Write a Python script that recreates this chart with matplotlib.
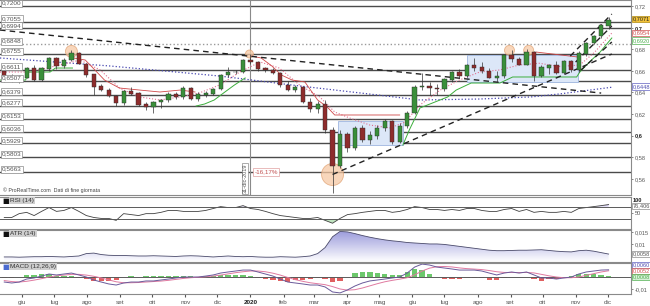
import numpy as np
import pandas as pd
import matplotlib
matplotlib.use('Agg')
import matplotlib.pyplot as plt
import matplotlib.dates as mdates
import matplotlib.transforms as mtransforms
from matplotlib.patches import Rectangle, Ellipse
from matplotlib.colors import LinearSegmentedColormap

plt.rcParams['font.family'] = ['Liberation Sans', 'DejaVu Sans']

# ---------------- data (NZD/USD, weekly) ----------------
week_end = pd.date_range('2019-05-17', '2020-12-04', freq='W-FRI')
first_open = 0.6600
closes = [0.6520, 0.6550, 0.6535, 0.6620, 0.6520, 0.6620, 0.6715, 0.6650, 0.6700, 0.6760,
          0.6665, 0.6565, 0.6455, 0.6425, 0.6365, 0.6300, 0.6410, 0.6390, 0.6290, 0.6270,
          0.6310, 0.6330, 0.6380, 0.6360, 0.6440, 0.6340, 0.6380, 0.6390, 0.6430, 0.6560,
          0.6590, 0.6590, 0.6700, 0.6680, 0.6620, 0.6610, 0.6580, 0.6470, 0.6420, 0.6450,
          0.6310, 0.6250, 0.6290, 0.6050, 0.5720, 0.6010, 0.5890, 0.6070, 0.5960, 0.6000,
          0.6070, 0.6130, 0.5940, 0.6090, 0.6210, 0.6450, 0.6460, 0.6440, 0.6430, 0.6520,
          0.6590, 0.6550, 0.6650, 0.6630, 0.6600, 0.6540, 0.6550, 0.6740, 0.6710, 0.6660,
          0.6770, 0.6550, 0.6630, 0.6650, 0.6580, 0.6690, 0.6610, 0.6760, 0.6860, 0.6920,
          0.7020, 0.7070]
highs = [0.6615, 0.6570, 0.6565, 0.6640, 0.6650, 0.6640, 0.6725, 0.6730, 0.6715, 0.6790,
         0.6770, 0.6670, 0.6570, 0.6480, 0.6440, 0.6375, 0.6420, 0.6450, 0.6400, 0.6310,
         0.6320, 0.6340, 0.6400, 0.6400, 0.6460, 0.6450, 0.6400, 0.6410, 0.6440, 0.6570,
         0.6640, 0.6610, 0.6710, 0.6756, 0.6690, 0.6640, 0.6630, 0.6590, 0.6510, 0.6470,
         0.6460, 0.6350, 0.6320, 0.6330, 0.6080, 0.6050, 0.6030, 0.6090, 0.6100, 0.6040,
         0.6100, 0.6150, 0.6140, 0.6120, 0.6230, 0.6470, 0.6580, 0.6500, 0.6480, 0.6530,
         0.6600, 0.6620, 0.6660, 0.6720, 0.6680, 0.6630, 0.6600, 0.6750, 0.6797, 0.6730,
         0.6798, 0.6780, 0.6650, 0.6660, 0.6690, 0.6700, 0.6700, 0.6780, 0.6870, 0.6930,
         0.7030, 0.7100]
lows = [0.6500, 0.6500, 0.6485, 0.6530, 0.6510, 0.6505, 0.6600, 0.6620, 0.6630, 0.6690,
        0.6660, 0.6540, 0.6380, 0.6410, 0.6355, 0.6270, 0.6285, 0.6380, 0.6270, 0.6240,
        0.6210, 0.6260, 0.6310, 0.6340, 0.6340, 0.6330, 0.6320, 0.6360, 0.6380, 0.6420,
        0.6540, 0.6570, 0.6580, 0.6660, 0.6600, 0.6590, 0.6570, 0.6450, 0.6410, 0.6400,
        0.6300, 0.6220, 0.6210, 0.6020, 0.5469, 0.5700, 0.5850, 0.5870, 0.5940, 0.5920,
        0.5970, 0.6040, 0.5920, 0.5930, 0.6070, 0.6200, 0.6420, 0.6380, 0.6380, 0.6410,
        0.6500, 0.6530, 0.6540, 0.6600, 0.6580, 0.6530, 0.6500, 0.6530, 0.6680, 0.6650,
        0.6650, 0.6510, 0.6540, 0.6570, 0.6570, 0.6570, 0.6590, 0.6590, 0.6740, 0.6850,
        0.6900, 0.6990]

rsi = [36, 36, 48, 52, 42, 55, 67, 55, 58, 67, 55, 42, 36, 33, 33, 27, 48, 45, 42, 48,
       48, 52, 58, 58, 55, 55, 55, 58, 64, 70, 67, 67, 73, 64, 61, 55, 48, 42, 39, 36,
       33, 33, 36, 27, 18, 33, 45, 48, 52, 55, 58, 58, 52, 55, 61, 70, 67, 61, 61, 58,
       61, 58, 64, 64, 58, 55, 55, 61, 64, 55, 61, 52, 55, 52, 52, 55, 52, 64, 67, 70,
       73, 76.4]
atr = [0.0046, 0.0046, 0.0045, 0.0046, 0.0047, 0.0047, 0.0048, 0.0047, 0.0046, 0.0048,
       0.0050, 0.0060, 0.0062, 0.0056, 0.0053, 0.0052, 0.0052, 0.0051, 0.0050, 0.0050,
       0.0051, 0.0050, 0.0049, 0.0048, 0.0050, 0.0051, 0.0050, 0.0048, 0.0046, 0.0048,
       0.0050, 0.0048, 0.0047, 0.0048, 0.0046, 0.0045, 0.0045, 0.0047, 0.0046, 0.0045,
       0.0047, 0.0050, 0.0060, 0.0085, 0.0130, 0.0152, 0.0150, 0.0143, 0.0135, 0.0128,
       0.0122, 0.0117, 0.0113, 0.0110, 0.0106, 0.0104, 0.0102, 0.0100, 0.0100, 0.0098,
       0.0094, 0.0090, 0.0086, 0.0082, 0.0078, 0.0074, 0.0072, 0.0072, 0.0073, 0.0074,
       0.0074, 0.0075, 0.0076, 0.0073, 0.0070, 0.0068, 0.0067, 0.0072, 0.0074, 0.0070,
       0.0064, 0.0058]
macd = [-0.0042, -0.0050, -0.0042, -0.0017, -0.0008, 0.0008, 0.0025, 0.0017, 0.0025, 0.0033,
        0.0017, 0.0000, -0.0025, -0.0042, -0.0058, -0.0067, -0.0050, -0.0042, -0.0042, -0.0033,
        -0.0033, -0.0025, -0.0017, -0.0008, 0.0000, 0.0000, 0.0000, 0.0008, 0.0017, 0.0033,
        0.0042, 0.0050, 0.0058, 0.0058, 0.0042, 0.0025, 0.0008, -0.0017, -0.0042, -0.0050,
        -0.0058, -0.0067, -0.0067, -0.0083, -0.0125, -0.0133, -0.0108, -0.0075, -0.0050, -0.0033,
        -0.0025, -0.0017, -0.0008, 0.0000, 0.0033, 0.0083, 0.0108, 0.0100, 0.0083, 0.0075,
        0.0067, 0.0058, 0.0058, 0.0058, 0.0050, 0.0033, 0.0017, 0.0033, 0.0042, 0.0033,
        0.0042, 0.0017, -0.0008, -0.0008, -0.0017, -0.0008, 0.0000, 0.0025, 0.0042, 0.0050,
        0.0058, 0.0060]
signal = [-0.0030, -0.0038, -0.0042, -0.0036, -0.0026, -0.0014, 0.0000, 0.0010, 0.0016, 0.0022,
          0.0022, 0.0016, 0.0006, -0.0008, -0.0024, -0.0040, -0.0048, -0.0048, -0.0046, -0.0042,
          -0.0038, -0.0034, -0.0028, -0.0020, -0.0012, -0.0006, -0.0002, 0.0002, 0.0008, 0.0016,
          0.0026, 0.0036, 0.0044, 0.0050, 0.0050, 0.0044, 0.0032, 0.0016, -0.0004, -0.0022,
          -0.0036, -0.0048, -0.0056, -0.0064, -0.0080, -0.0100, -0.0110, -0.0106, -0.0092, -0.0074,
          -0.0056, -0.0040, -0.0028, -0.0018, -0.0006, 0.0018, 0.0050, 0.0074, 0.0086, 0.0088,
          0.0084, 0.0076, 0.0070, 0.0066, 0.0062, 0.0054, 0.0044, 0.0038, 0.0038, 0.0037,
          0.0038, 0.0034, 0.0022, 0.0010, 0.0000, -0.0006, -0.0006, 0.0000, 0.0014, 0.0028,
          0.0042, 0.0052]

# moving averages / trailing stops (knots)
ma_fast_dates = ['2019-05-11', '2019-06-08', '2019-07-06', '2019-07-25', '2019-08-13', '2019-08-31',
                 '2019-09-19', '2019-10-08', '2019-10-27', '2019-11-14', '2019-12-03', '2019-12-22',
                 '2020-01-10', '2020-01-28', '2020-02-16', '2020-03-06', '2020-03-20', '2020-04-03',
                 '2020-04-22', '2020-05-11', '2020-05-25', '2020-06-08', '2020-06-27', '2020-07-15',
                 '2020-08-03', '2020-08-22', '2020-09-09', '2020-09-28', '2020-10-17', '2020-11-05',
                 '2020-11-19', '2020-12-05']
ma_fast = [0.6589, 0.6589, 0.6654, 0.6700, 0.6608, 0.6441, 0.6358, 0.6330, 0.6358, 0.6395,
           0.6469, 0.6589, 0.6682, 0.6626, 0.6469, 0.6358, 0.6219, 0.6163, 0.6098, 0.6071,
           0.6126, 0.6284, 0.6422, 0.6515, 0.6589, 0.6608, 0.6654, 0.6670, 0.6640, 0.6654,
           0.6774, 0.6950]
ma_slow_dates = ['2019-05-11', '2019-08-22', '2019-12-03', '2020-02-16', '2020-04-13', '2020-06-08',
                 '2020-08-03', '2020-09-20', '2020-10-17', '2020-12-05']
ma_slow = [0.6719, 0.6645, 0.6552, 0.6460, 0.6395, 0.6330, 0.6339, 0.6358, 0.6386, 0.6448]

stop_red = [
    (['2019-07-19', '2019-07-30', '2019-08-08', '2019-08-17', '2019-08-31', '2019-09-19',
      '2019-10-08', '2019-10-27', '2019-11-10'],
     [0.6719, 0.6700, 0.6608, 0.6515, 0.6441, 0.6422, 0.6404, 0.6422, 0.6404]),
    (['2020-01-02', '2020-01-11', '2020-01-21', '2020-01-30', '2020-02-09', '2020-02-21',
      '2020-03-04', '2020-03-13', '2020-03-20', '2020-05-20'],
     [0.6737, 0.6719, 0.6645, 0.6561, 0.6515, 0.6497, 0.6330, 0.6265, 0.6191, 0.6191]),
    (['2020-09-25', '2020-11-03'], [0.6774, 0.6728]),
]
stop_green = [
    (['2019-05-11', '2019-06-04', '2019-06-07', '2019-06-27', '2019-07-02', '2019-07-18'],
     [0.6515, 0.6515, 0.6589, 0.6589, 0.6626, 0.6626]),
    (['2019-11-11', '2019-11-19', '2019-11-28', '2019-12-08', '2019-12-17', '2019-12-27'],
     [0.6274, 0.6293, 0.6330, 0.6404, 0.6469, 0.6534]),
    (['2020-05-23', '2020-05-29', '2020-06-08', '2020-07-04', '2020-07-12', '2020-07-26',
      '2020-08-22', '2020-09-03', '2020-11-02', '2020-11-05', '2020-11-14', '2020-11-24',
      '2020-12-05'],
     [0.5913, 0.6052, 0.6256, 0.6358, 0.6422, 0.6487, 0.6487, 0.6543, 0.6543, 0.6589,
      0.6682, 0.6774, 0.6904]),
]

levels = [0.7200, 0.7055, 0.6994, 0.6848, 0.6755, 0.6611, 0.6507, 0.6379, 0.6277,
          0.6153, 0.6036, 0.5929, 0.5803, 0.5663]
trend_lines = [
    (('2019-05-11', 0.6978), ('2020-11-25', 0.6394)),
    (('2020-03-18', 0.5640), ('2020-12-05', 0.6756)),
    (('2020-10-27', 0.6737), ('2020-12-05', 0.7126)),
    (('2020-11-01', 0.6681), ('2020-12-05', 0.7015)),
    (('2020-11-06', 0.6607), ('2020-12-05', 0.6867)),
]
ranges = [(('2020-03-23', 0.5913), ('2020-05-23', 0.6135)),
          (('2020-07-22', 0.6496), ('2020-11-03', 0.6746))]
highlights = [('2019-07-17', 0.6780, 6), ('2019-12-31', 0.6756, 4),
              ('2020-08-31', 0.6790, 5), ('2020-09-18', 0.6790, 5),
              ('2020-03-18', 0.5640, 11)]

month_ticks = pd.date_range('2019-06-01', '2020-12-01', freq='MS')
month_labels = ['giu', 'lug', 'ago', 'set', 'ott', 'nov', 'dic', '2020', 'feb', 'mar',
                'apr', 'mag', 'giu', 'lug', 'ago', 'set', 'ott', 'nov', 'dic']

# ---------------- figure ----------------
W, H = 650, 306
fig = plt.figure(figsize=(W / 100, H / 100), dpi=100)
fig.patch.set_facecolor('white')


def rect(x0, y0, x1, y1):
    return [x0 / W, 1 - y1 / H, (x1 - x0) / W, (y1 - y0) / H]


ax = fig.add_axes(rect(0, 0, 631, 195))
ax_rsi = fig.add_axes(rect(0, 197, 631, 229), sharex=ax)
ax_atr = fig.add_axes(rect(0, 230, 631, 262), sharex=ax)
ax_macd = fig.add_axes(rect(0, 263, 631, 294), sharex=ax)

grey = '#555555'
fs = 4.6
sfs = 4.1
for a in (ax, ax_rsi, ax_atr, ax_macd):
    a.set_facecolor('white')
    for s in a.spines.values():
        s.set_color('#8a8a8a')
        s.set_linewidth(0.8)
    a.spines['left'].set_visible(False)
    a.yaxis.tick_right()
    a.tick_params(axis='y', labelsize=sfs, colors=grey, length=1.5, width=0.5, pad=1.5)
    a.tick_params(axis='x', length=0, labelbottom=False)

x = mdates.date2num(week_end - pd.Timedelta(days=2))
opens = [first_open] + closes[:-1]
to_num = lambda d: mdates.date2num(pd.Timestamp(d))
px_day = 1.0674
px_price = 0.000926
x_lo, x_hi = to_num('2019-05-11'), to_num('2020-12-23')

# horizontal levels
for lv in levels:
    ls = ':' if lv == 0.6848 else '-'
    col = '#9a9a9a' if lv == 0.6848 else '#4a4a4a'
    ax.axhline(lv, color=col, lw=1.0, ls=ls, zorder=1)

# range boxes
for (d0, p0), (d1, p1) in ranges:
    ax.add_patch(Rectangle((to_num(d0), p0), to_num(d1) - to_num(d0), p1 - p0,
                           fc='#dce7f8', ec='#9fb6e0', lw=0.6, zorder=1.5))

# highlight circles
for d, p, r in highlights:
    ax.add_patch(Ellipse((to_num(d), p), 2 * r / px_day, 2 * r * px_price,
                         fc='#f6c9a4', ec='#e0a070', lw=0.6, alpha=0.75, zorder=1.6))

# 2020 marker line
ax.axvline(to_num('2020-01-01'), color='#8a8a8a', lw=0.8, zorder=1.2)

# moving averages and trailing stops
ax.plot(pd.to_datetime(ma_slow_dates), ma_slow, color='#4848b0', lw=0.9, ls=':', zorder=2)
ax.plot(pd.to_datetime(ma_fast_dates), ma_fast, color='#e07090', lw=0.8, ls=':', zorder=2)
for ds, vs in stop_red:
    ax.plot(pd.to_datetime(ds), vs, color='#d04848', lw=0.6, zorder=2)
for ds, vs in stop_green:
    ax.plot(pd.to_datetime(ds), vs, color='#3cae3c', lw=0.7, zorder=2)

# trend lines
for (d0, p0), (d1, p1) in trend_lines:
    ax.plot([pd.Timestamp(d0), pd.Timestamp(d1)], [p0, p1], color='#222222',
            lw=1.0, ls=(0, (4, 3)), zorder=3)

# candles
up = np.array(closes) >= np.array(opens)
body_col = np.where(up, '#3a8f3a', '#8e2c2c')
ax.vlines(x, lows, highs, color='#333333', lw=0.5, zorder=3.5)
ax.bar(x, np.abs(np.array(closes) - np.array(opens)) + 0.0004,
       bottom=np.minimum(closes, opens) - 0.0002, width=4.0,
       color=body_col, edgecolor='#2a2a2a', lw=0.3, zorder=4)

ax.set_ylim(0.545, 0.7256)
ax.set_xlim(x_lo, x_hi)
ax.set_yticks([0.72, 0.70, 0.68, 0.66, 0.64, 0.62, 0.60, 0.58, 0.56])
ax.set_yticklabels(['0,72', '0,7', '0,68', '0,66', '0,64', '0,62', '0,6', '0,58', '0,56'])
for t in ax.get_yticklabels():
    if t.get_text() in ('0,7', '0,6'):
        t.set_fontweight('bold')
        t.set_color('#222222')

# left level labels
ltrans = mtransforms.blended_transform_factory(ax.transAxes, ax.transData)
for lv in levels:
    ax.text(0.003, lv + 0.0003, f'{lv:.4f}'.replace('.', ','), transform=ltrans,
            fontsize=fs, color=grey, va='bottom', ha='left', zorder=6,
            bbox=dict(boxstyle='square,pad=0.15', fc='white', ec='#8a8a8a', lw=0.5))


def side_label(a, val, txt, fc, ec, tc, bold=False):
    tr = mtransforms.blended_transform_factory(a.transAxes, a.transData)
    a.text(1.003, val, txt, transform=tr, fontsize=sfs, color=tc, va='center', ha='left',
           fontweight='bold' if bold else 'normal', clip_on=False, zorder=7,
           bbox=dict(boxstyle='square,pad=0.12', fc=fc, ec=ec, lw=0.5))


side_label(ax, 0.7080, '0,7071', '#f2c23a', '#b08a10', '#222222')
side_label(ax, 0.6948, '0,6954', 'white', '#d05050', '#d05050')
side_label(ax, 0.6882, '0,6920', 'white', '#50b050', '#50b050')
side_label(ax, 0.6455, '0,6448', 'white', '#6060c0', '#5050b0')

# annotations
ax.text(to_num('2019-12-27'), 0.547, '31-dic-2019', rotation=90, fontsize=4.0, color=grey,
        ha='center', va='bottom', zorder=6,
        bbox=dict(boxstyle='square,pad=0.15', fc='white', ec='#8a8a8a', lw=0.5))
ax.text(to_num('2020-01-05'), 0.5665, '-16,17%', fontsize=4.5, color='#c05050',
        ha='left', va='center', zorder=6,
        bbox=dict(boxstyle='square,pad=0.2', fc='white', ec='#e0a0a0', lw=0.5))
ax.text(0.004, 0.012, '\u00a9 ProRealTime.com  Dati di fine giornata', transform=ax.transAxes,
        fontsize=3.8, color='#444444', ha='left', va='bottom', zorder=6)

# ---------------- RSI ----------------
ax_rsi.plot(x, rsi, color='#404040', lw=0.6)
rsi_a = np.array(rsi, dtype=float)
ax_rsi.fill_between(x, rsi_a, 30, where=rsi_a < 30, interpolate=True, color='#bfe3bf', lw=0)
ax_rsi.fill_between(x, rsi_a, 70, where=rsi_a > 70, interpolate=True, color='#d6cff2', lw=0)
ax_rsi.axhline(70, color='#5a5a5a', lw=0.7)
ax_rsi.axhline(30, color='#5a5a5a', lw=0.7)
ax_rsi.set_ylim(0, 100)
ax_rsi.set_yticks([50])
ax_rsi.set_yticklabels(['50'])
side_label(ax_rsi, 88, '100', 'white', 'white', '#222222', bold=True)
side_label(ax_rsi, 72, '76,406', 'white', '#8a8a8a', grey)

# ---------------- ATR (gradient fill under the line) ----------------
atr_lo, atr_hi = 0.0025, 0.0158
area = ax_atr.fill_between(x, atr, atr_lo, facecolor='none', lw=0)
grad_cmap = LinearSegmentedColormap.from_list('atr', ['#ffffff', '#9c9cdc'])
img = ax_atr.imshow(np.linspace(0, 1, 64).reshape(-1, 1), cmap=grad_cmap, aspect='auto',
                    origin='lower', extent=[x_lo, x_hi, atr_lo, 0.0152], zorder=1)
img.set_clip_path(area.get_paths()[0], transform=ax_atr.transData)
ax_atr.plot(x, atr, color='#4a4a6a', lw=0.6, zorder=2)
ax_atr.set_xlim(x_lo, x_hi)
ax_atr.set_ylim(atr_lo, atr_hi)
ax_atr.set_yticks([0.015, 0.01])
ax_atr.set_yticklabels(['0,015', '0,01'])
side_label(ax_atr, 0.0058, '0,0058', 'white', '#8a8a8a', grey)

# ---------------- MACD ----------------
hist = np.array(macd) - np.array(signal)
ax_macd.bar(x, hist, width=5, color=np.where(hist >= 0, '#6cc86c', '#e06060'), lw=0)
ax_macd.axhline(0, color='#5a5a5a', lw=0.7)
ax_macd.plot(x, signal, color='#e07aa0', lw=0.7)
ax_macd.plot(x, macd, color='#6a5a9a', lw=0.7)
ax_macd.set_ylim(-0.0142, 0.0117)
ax_macd.set_yticks([-0.01])
ax_macd.set_yticklabels(['-0,01'])
side_label(ax_macd, 0.0100, '0,0060', 'white', '#6060c0', '#5050b0')
side_label(ax_macd, 0.0050, '0,0052', 'white', '#d05050', '#d05050')
side_label(ax_macd, 0.0000, '0,0008', '#d8f0d8', '#50b050', '#50b050')

# panel titles
for a, name, sq in ((ax_rsi, 'RSI (14)', '#111111'), (ax_atr, 'ATR (14)', '#111111'),
                    (ax_macd, 'MACD (12,26,9)', '#4a6ad0')):
    a.text(0.004, 0.97, '\u25a0', transform=a.transAxes, fontsize=5, color=sq,
           family='DejaVu Sans', ha='left', va='top', zorder=8)
    a.text(0.016, 0.97, name, transform=a.transAxes, fontsize=4.6, color='#333333',
           ha='left', va='top', zorder=8,
           bbox=dict(boxstyle='square,pad=0.15', fc='#cfcfcf', ec='none'))

# x axis months
ax_macd.set_xticks(mdates.date2num(month_ticks))
ax_macd.tick_params(axis='x', labelbottom=True, labelsize=fs, colors=grey, length=2, pad=2)
ax_macd.set_xticklabels(month_labels)
for t in ax_macd.get_xticklabels():
    if t.get_text() == '2020':
        t.set_fontweight('bold')
        t.set_color('#222222')
ax_macd.set_xlim(x_lo, x_hi)

fig.savefig('out.png', dpi=100)
